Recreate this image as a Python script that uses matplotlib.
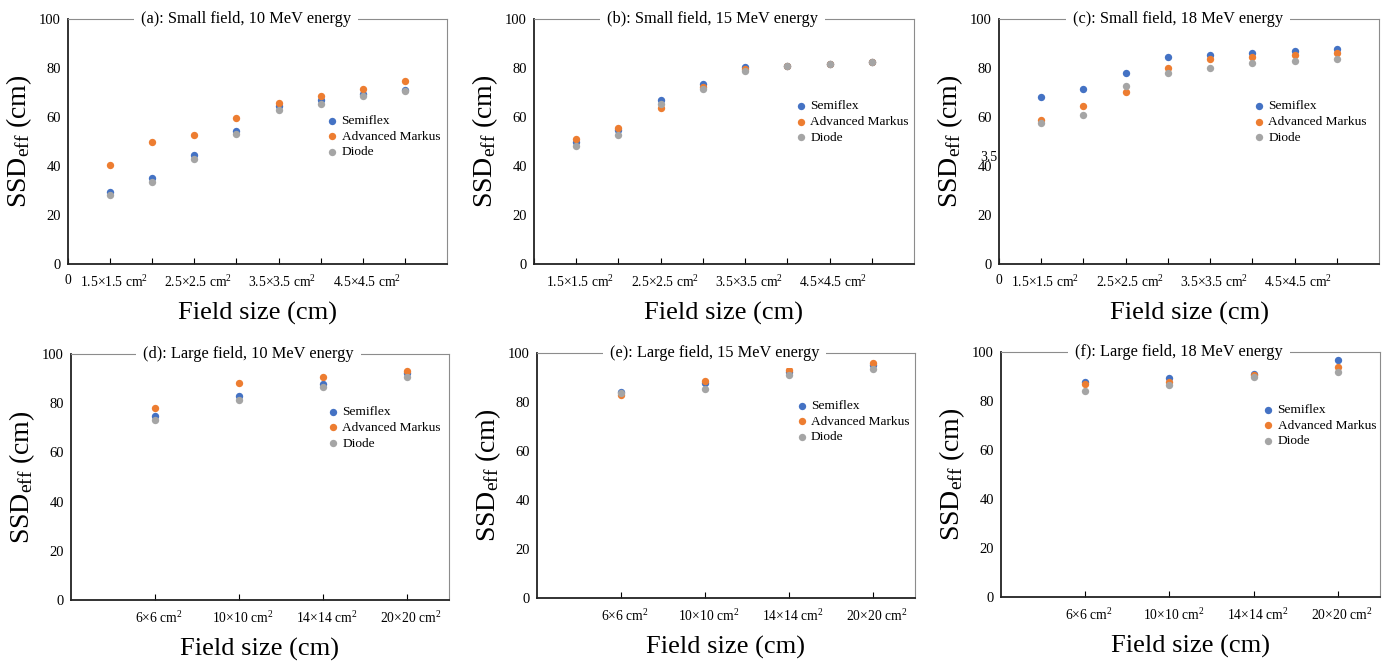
import numpy as np
import matplotlib
matplotlib.use("Agg")
import matplotlib.pyplot as plt
import matplotlib.transforms as mtransforms

plt.rcParams['font.family'] = ['Liberation Serif', 'DejaVu Serif']
plt.rcParams['mathtext.fontset'] = 'custom'
plt.rcParams['mathtext.rm'] = 'Liberation Serif'
plt.rcParams['mathtext.it'] = 'Liberation Serif:italic'

series = ['Semiflex', 'Advanced Markus', 'Diode']
colors = ['#4472C4', '#ED7D31', '#A5A5A5']

# small fields: 1.5, 2, 2.5, ... 5 cm
small_labels = ['0', r'1.5$\times$1.5 cm$^2$', '', r'2.5$\times$2.5 cm$^2$', '',
                r'3.5$\times$3.5 cm$^2$', '', r'4.5$\times$4.5 cm$^2$', '']
large_labels = [r'6$\times$6 cm$^2$', r'10$\times$10 cm$^2$',
                r'14$\times$14 cm$^2$', r'20$\times$20 cm$^2$']

a_semiflex = [29.3, 35.2, 44.4, 54.2, 64.3, 66.8, 69.3, 71.0]
a_markus = [40.6, 49.7, 52.6, 59.5, 65.8, 68.6, 71.3, 74.7]
a_diode = [28.3, 33.6, 42.9, 52.9, 63.0, 65.2, 68.5, 70.8]

b_semiflex = [49.6, 54.5, 67.0, 73.4, 80.3, 80.8, 81.5, 82.3]
b_markus = [51.0, 55.4, 63.6, 72.1, 79.5, 80.8, 81.5, 82.3]
b_diode = [48.2, 52.7, 65.2, 71.3, 78.8, 80.8, 81.5, 82.3]

c_semiflex = [68.3, 71.6, 78.1, 84.4, 85.3, 86.0, 87.0, 87.8]
c_markus = [58.8, 64.4, 70.2, 80.0, 83.7, 84.5, 85.3, 86.1]
c_diode = [57.7, 60.9, 72.7, 78.0, 80.0, 82.1, 82.9, 83.6]

d_semiflex = [74.8, 82.8, 87.9, 92.1]
d_markus = [77.9, 88.1, 90.5, 93.1]
d_diode = [73.2, 81.2, 86.4, 90.5]

e_semiflex = [84.0, 87.8, 92.3, 95.0]
e_markus = [82.9, 88.6, 92.9, 95.8]
e_diode = [83.7, 85.2, 90.9, 93.6]

f_semiflex = [87.9, 89.3, 91.2, 96.9]
f_markus = [87.0, 87.9, 90.5, 93.8]
f_diode = [84.2, 86.5, 89.9, 91.7]

titles = ['(a): Small field, 10 MeV energy', '(b): Small field, 15 MeV energy',
          '(c): Small field, 18 MeV energy', '(d): Large field, 10 MeV energy',
          '(e): Large field, 15 MeV energy', '(f): Large field, 18 MeV energy']

W, H = 1386, 662
fig = plt.figure(figsize=(W / 100, H / 100), dpi=100)

# axes boxes in pixels: left, top, right, bottom
boxes = [(68, 19, 447, 264), (534, 19, 914, 264), (999, 19, 1379, 264),
         (71, 354, 449, 600), (537, 353, 915, 598), (1001, 352, 1380, 597)]
# legend marker position (axes fraction)
leg_pos = [(0.697, 0.52), (0.703, 0.58), (0.684, 0.58),
           (0.693, 0.70), (0.700, 0.72), (0.705, 0.70)]

data = [(a_semiflex, a_markus, a_diode), (b_semiflex, b_markus, b_diode),
        (c_semiflex, c_markus, c_diode), (d_semiflex, d_markus, d_diode),
        (e_semiflex, e_markus, e_diode), (f_semiflex, f_markus, f_diode)]

shift = mtransforms.ScaledTranslation(4 / 100, 0, fig.dpi_scale_trans)

for i, (box, vals) in enumerate(zip(boxes, data)):
    l, t, r, b = box
    ax = fig.add_axes([l / W, 1 - b / H, (r - l) / W, (b - t) / H])
    small = i < 3
    x = np.arange(1, len(vals[0]) + 1)
    for name, col, v in zip(series, colors, vals):
        ax.scatter(x, v, s=28, color=col, label=name, zorder=3, linewidths=0)
    ax.set_ylim(0, 100)
    ax.set_yticks(np.arange(0, 101, 20))
    ax.tick_params(axis='y', length=0, labelsize=10.5, pad=5)
    if small:
        ax.set_xlim(0, 9)
        ax.set_xticks(np.arange(0, 9))
        labs = list(small_labels)
        if i == 1:
            labs[0] = ''
        ax.set_xticklabels(labs)
    else:
        ax.set_xlim(0, 4.5)
        ax.set_xticks(x)
        ax.set_xticklabels(large_labels)
    ax.tick_params(axis='x', direction='in', length=4, labelsize=9.8, pad=7)
    for k, lab in enumerate(ax.get_xticklabels()):
        if small and k == 0:
            continue
        lab.set_transform(lab.get_transform() + shift)
    ax.spines['left'].set_color('#222222')
    ax.spines['bottom'].set_color('#222222')
    ax.spines['left'].set_linewidth(1.3)
    ax.spines['bottom'].set_linewidth(1.3)
    ax.spines['top'].set_color('#8c8c8c')
    ax.spines['right'].set_color('#8c8c8c')
    ax.set_ylabel(r'SSD$_{\rm eff}$ (cm)', fontsize=20, labelpad=4)
    ax.set_xlabel('Field size (cm)', fontsize=19, labelpad=9)
    ax.text(0.47, 1.0, titles[i], transform=ax.transAxes, ha='center', va='center',
            fontsize=11.8, bbox=dict(facecolor='white', edgecolor='none', pad=5), zorder=5)
    lx, ly = leg_pos[i]
    ax.legend(loc='center left', bbox_to_anchor=(lx - 0.014, ly), frameon=False,
              fontsize=9.6, handletextpad=0.3, handlelength=0.8, labelspacing=0.25,
              borderaxespad=0, borderpad=0, markerscale=1.0)
    if i == 2:
        ax.text(-0.003, 43.5, '3.5', transform=ax.get_yaxis_transform(),
                ha='right', va='center', fontsize=10)

fig.savefig('out.png', dpi=100)
